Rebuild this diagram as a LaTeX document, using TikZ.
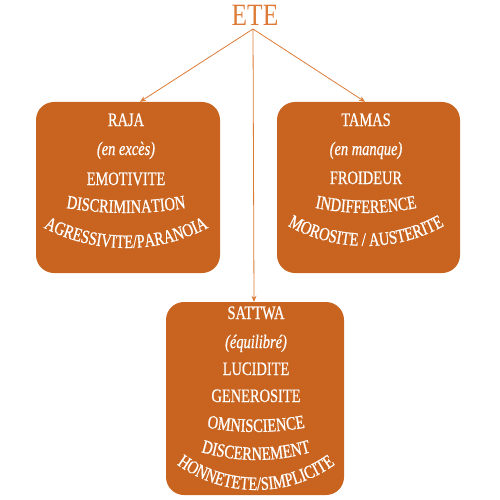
\documentclass[tikz,border=0pt]{standalone}
\usepackage{fontspec}
\setmainfont[FakeStretch=0.76,FakeBold=0.7]{Liberation Serif}
\newfontfamily\titlefont[FakeStretch=0.82]{Liberation Serif}
\usetikzlibrary{arrows.meta,decorations.text}

\definecolor{boxorange}{HTML}{C8641F}
\definecolor{lineorange}{HTML}{DC7A36}
\newcommand{\gunafont}{\fontsize{19}{19}\selectfont}

\tikzset{
    gunabox/.style={fill=boxorange, rounded corners=18pt, inner sep=0pt},
    gunatext/.style={anchor=base, text=white, font=\gunafont, inner sep=0pt},
    arctext/.style={decorate, decoration={text along path, text align=center,
        text={|\color{white}\gunafont|#1}}},
    link/.style={lineorange, line width=0.8pt, -{Stealth[length=6pt,width=5pt]}}
}

\begin{document}
\begin{tikzpicture}[x=1pt,y=-1pt]
    \useasboundingbox (0,0) rectangle (500,500);

    % Title
    \node[anchor=base, text=lineorange, font=\titlefont\fontsize{31}{31}\selectfont, inner sep=0pt] (ete) at (255,26) {ETE};
    \coordinate (hub) at (253,29);

    % Boxes
    \node[gunabox, minimum width=184pt, minimum height=171pt] (raja) at (128,187.5) {};
    \node[gunabox, minimum width=183pt, minimum height=171pt] (tamas) at (368.5,187.5) {};
    \node[gunabox, minimum width=178pt, minimum height=193pt] (sattwa) at (255,398.5) {};

    % Arrows from the title
    \draw[link] (hub) -- ([xshift=12pt]raja.north);
    \draw[link] (hub) -- ([xshift=-3.5pt]tamas.north);
    \draw[link] (hub) -- ([xshift=-1pt]sattwa.north);

    % RAJA
    \node[gunatext] (raja1) at (126,126) {RAJA};
    \node[gunatext, font=\gunafont\itshape] (raja2) at (126,155) {(en excès)};
    \node[gunatext] (raja3) at (126,185) {EMOTIVITE};
    \path[arctext={DISCRIMINATION}] (126,-147) ++(135:360) arc[start angle=135, end angle=45, radius=360];
    \path[arctext={AGRESSIVITE/PARANOIA}] (126,72) ++(135:176) arc[start angle=135, end angle=45, radius=176];

    % TAMAS
    \node[gunatext] (tamas1) at (366,126) {TAMAS};
    \node[gunatext, font=\gunafont\itshape] (tamas2) at (366,155) {(en manque)};
    \node[gunatext] (tamas3) at (366,184) {FROIDEUR};
    \path[arctext={INDIFFERENCE}] (366,-39) ++(135:252) arc[start angle=135, end angle=45, radius=252];
    \path[arctext={MOROSITE / AUSTERITE}] (366,85) ++(135:161) arc[start angle=135, end angle=45, radius=161];

    % SATTWA
    \node[gunatext] (sattwa1) at (256,319) {SATTWA};
    \node[gunatext, font=\gunafont\itshape] (sattwa2) at (256,348) {(équilibré)};
    \node[gunatext] (sattwa3) at (256,375) {LUCIDITE};
    \node[gunatext] (sattwa4) at (256,402) {GENEROSITE};
    \path[arctext={OMNISCIENCE}] (256,152) ++(135:280) arc[start angle=135, end angle=45, radius=280];
    \path[arctext={DISCERNEMENT}] (256,267) ++(135:193) arc[start angle=135, end angle=45, radius=193];
    \path[arctext={HONNETETE/SIMPLICITE}] (256,355) ++(135:135) arc[start angle=135, end angle=45, radius=135];
\end{tikzpicture}
\end{document}
